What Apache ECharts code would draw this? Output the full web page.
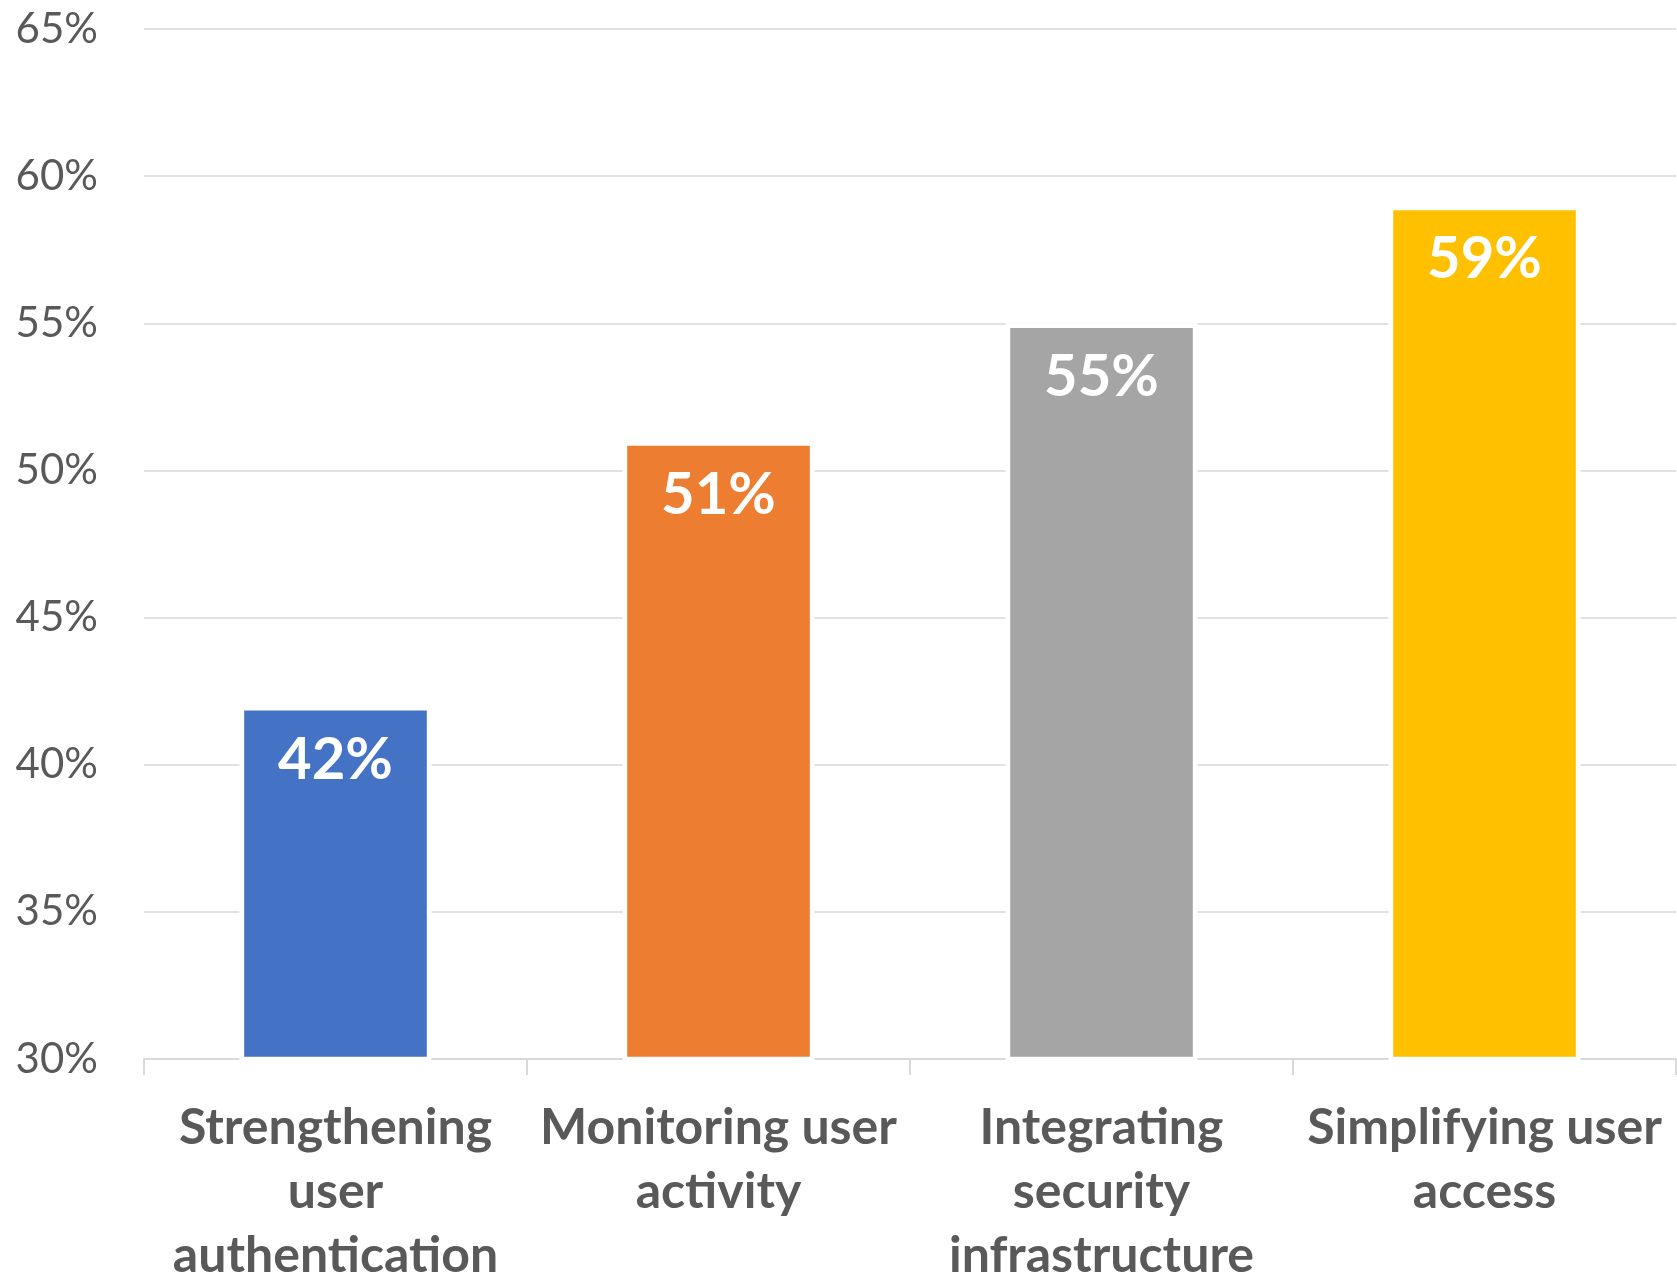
<!DOCTYPE html>
<html>
<head>
<meta charset="utf-8">
<script src="https://cdn.jsdelivr.net/npm/echarts@6/dist/echarts.min.js"></script>
<style>
  html, body { margin: 0; padding: 0; background: #ffffff; }
  #chart { width: 1677px; height: 1278px; }
</style>
</head>
<body>
<div id="chart"></div>
<script>
const categories = [
  "Strengthening\nuser\nauthentication",
  "Monitoring user\nactivity",
  "Integrating\nsecurity\ninfrastructure",
  "Simplifying user\naccess"
];
const values = [42, 51, 55, 59];
const barColors = ["#4472C4", "#ED7D31", "#A5A5A5", "#FFC000"];
const yMin = 30, yMax = 65, yStep = 5;

const chart = echarts.init(document.getElementById('chart'), null, { renderer: 'canvas' });
chart.setOption({
  animation: false,
  backgroundColor: '#ffffff',
  grid: { left: 144, right: 1, top: 29, bottom: 219, containLabel: false, outerBoundsMode: 'none' },
  xAxis: {
    type: 'category',
    data: categories,
    boundaryGap: true,
    axisLine: { show: true, lineStyle: { color: '#d9d9d9', width: 2 } },
    axisTick: { show: true, length: 16, alignWithLabel: false, lineStyle: { color: '#d9d9d9', width: 2 } },
    axisLabel: {
      interval: 0,
      margin: 37,
      color: '#595959',
      fontFamily: 'Lato',
      fontWeight: 'bold',
      fontSize: 50,
      lineHeight: 64,
      align: 'center'
    }
  },
  yAxis: {
    type: 'value',
    min: yMin,
    max: yMax,
    interval: yStep,
    axisLine: { show: false },
    axisTick: { show: false },
    splitLine: { show: true, lineStyle: { color: '#d9d9d9', width: 1.5 } },
    axisLabel: {
      formatter: '{value}%',
      margin: 46,
      color: '#595959',
      fontFamily: 'Lato',
      fontSize: 42
    }
  },
  series: [{
    type: 'bar',
    data: values.map((v, i) => ({ value: v, itemStyle: { color: barColors[i] } })),
    barWidth: 192,
    itemStyle: { borderColor: '#ffffff', borderWidth: 4.7 },
    label: {
      show: true,
      position: 'insideTop',
      distance: 25,
      formatter: '{c}%',
      color: '#ffffff',
      fontFamily: 'Lato',
      fontWeight: 'bold',
      fontSize: 58
    }
  }]
});
</script>
</body>
</html>
